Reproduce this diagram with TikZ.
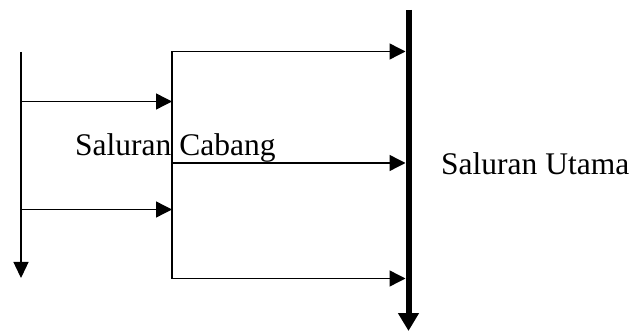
\documentclass[tikz,border=0pt]{standalone}
\usepackage{fontspec}
\setmainfont{Liberation Serif}
\usetikzlibrary{arrows.meta}
\begin{document}
\begin{tikzpicture}[x=1pt,y=-1pt,
  thin line/.style={line width=1.4pt},
  flow/.style={thin line,-{Triangle[length=16pt,width=16pt]}},
  label text/.style={inner sep=0pt,anchor=base west,font=\fontsize{31.5}{36}\selectfont}]
\useasboundingbox (0,0) rectangle (632,331);
% coordinates
\coordinate (Ltop) at (21,52);
\coordinate (Lbot) at (21,278);
\coordinate (Btop) at (172,51.5);
\coordinate (Bbot) at (172,278.5);
\coordinate (Mtop) at (408.5,10);
\coordinate (Mbot) at (408.5,331);
\coordinate (Mleft) at (405.5,0);
\coordinate (F1) at (21,101.5);
\coordinate (F2) at (21,209.5);
\coordinate (Bmid) at (172,163);
% left channel
\draw[thin line,-{Triangle[length=16pt,width=15pt]}] (Ltop) -- (Lbot);
\draw[flow] (F1) -- (F1 -| Btop);
\draw[flow] (F2) -- (F2 -| Btop);
% branch channel
\draw[thin line] (Btop) -- (Bbot);
\draw[flow] (Btop) -- (Btop -| Mleft);
\draw[flow] (Bmid) -- (Bmid -| Mleft);
\draw[flow] (Bbot) -- (Bbot -| Mleft);
% main channel
\draw[line width=6pt,-{Triangle[length=18pt,width=20pt]}] (Mtop) -- (Mbot);
% labels
\node[label text] (cabang) at (75,156) {Saluran Cabang};
\node[label text] (utama) at (441,175) {Saluran Utama};
\end{tikzpicture}
\end{document}
